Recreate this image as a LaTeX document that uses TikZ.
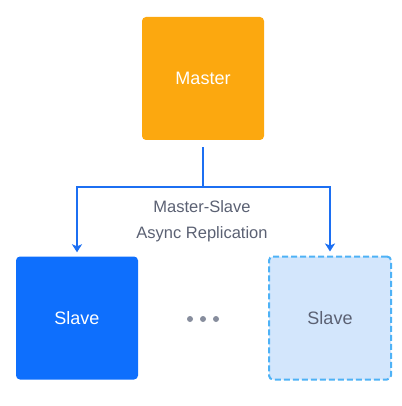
\documentclass[tikz,border=0pt]{standalone}
\usepackage{fontspec}
\setmainfont{Liberation Sans}
\usetikzlibrary{positioning,arrows.meta}
\definecolor{mOrange}{HTML}{FCA80F}
\definecolor{sBlue}{HTML}{0E6FFD}
\definecolor{sLight}{HTML}{D3E6FC}
\definecolor{sEdge}{HTML}{4EB2F6}
\definecolor{wBlue}{HTML}{1C6FF2}
\definecolor{txtGray}{HTML}{5B6173}
\definecolor{dotGray}{HTML}{878D9D}
\tikzset{
  box/.style  ={rounded corners=4pt,minimum width=122pt,minimum height=123pt,inner sep=0pt,
                font=\fontsize{18}{20}\selectfont},
  master/.style={box,fill=mOrange,text=white},
  slave/.style ={box,fill=sBlue,text=white},
  slavex/.style={box,fill=sLight,draw=sEdge,line width=2pt,dash pattern=on 6pt off 3pt,text=txtGray},
  wire/.style ={-{Stealth[length=8pt,width=10pt,inset=2pt]},draw=wBlue,line width=2pt},
  lbl/.style  ={align=center,text=txtGray,font=\fontsize{16.5}{26}\selectfont,inner sep=0pt},
  dot/.style  ={circle,fill=dotGray,minimum size=6pt,inner sep=0pt},
}
\begin{document}
\begin{tikzpicture}[x=1pt,y=-1pt]
\useasboundingbox (0,0) rectangle (401,406);

% ===================== BLOCOS =======================================
\node[master] (master) at (203,78.5)  {Master};
\node[slave]  (slv1)   at (77,318)    {Slave};
\node[slavex] (slvn)   at (330,318)   {Slave};

\node[dot] (d1) at (190,319) {};
\node[dot] (d2) at (203,319) {};
\node[dot] (d3) at (216,319) {};

% ===================== REPLICACAO ===================================
\coordinate (fork) at (203,187);
\draw[wire,-,shorten <=7pt] (master.south) -- (fork);
\draw[wire,shorten >=4pt] (fork) -| (slv1.north);
\draw[wire,shorten >=4pt] (fork) -| (slvn.north);
\node[lbl] (rep) at (202,221) {Master-Slave\\Async Replication};

\end{tikzpicture}
\end{document}
